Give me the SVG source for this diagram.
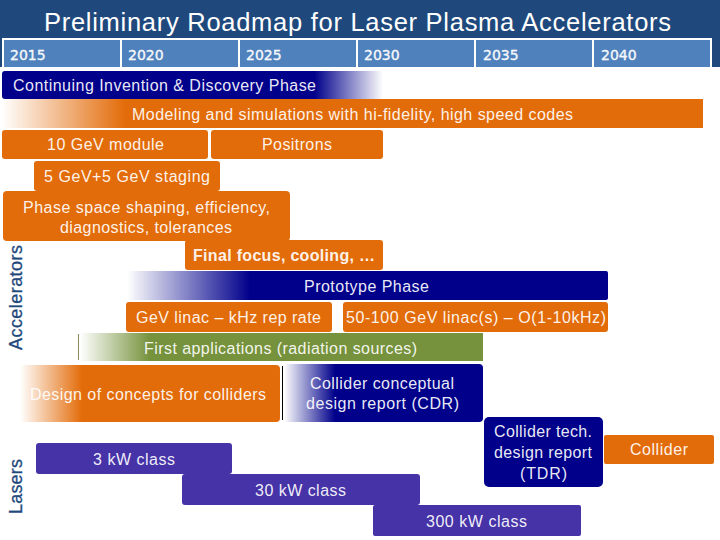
<svg xmlns="http://www.w3.org/2000/svg" width="720" height="540" viewBox="0 0 720 540">
<style>
text{font-family:"Liberation Sans",Arial,sans-serif;font-size:16px;fill:#fff;fill-opacity:.93}
.yr{font-family:"DejaVu Sans",sans-serif;font-size:14px;stroke:#fff;stroke-width:.35}
.side{fill:#1f497d;fill-opacity:1;font-size:18px;stroke:#1f497d;stroke-width:.3}
.o{fill:#e36c0a}.b{fill:#00008b}.p{fill:#4633a8}.g{fill:#76923c}
.cell{fill:#4f81bd;stroke:#fff;stroke-width:2}
</style>
<defs>
<linearGradient id="bR"><stop offset="0" stop-color="#00008b"/><stop offset=".82" stop-color="#00008b"/><stop offset="1" stop-color="#00008b" stop-opacity="0"/></linearGradient>
<linearGradient id="oL" gradientUnits="userSpaceOnUse" x1="2" x2="125" y1="0" y2="0"><stop offset="0" stop-color="#e36c0a" stop-opacity="0"/><stop offset="1" stop-color="#e36c0a"/></linearGradient>
<linearGradient id="pL" gradientUnits="userSpaceOnUse" x1="127" x2="250" y1="0" y2="0"><stop offset="0" stop-color="#00008b" stop-opacity="0"/><stop offset="1" stop-color="#00008b"/></linearGradient>
<linearGradient id="gL" gradientUnits="userSpaceOnUse" x1="80" x2="150" y1="0" y2="0"><stop offset="0" stop-color="#76923c" stop-opacity="0"/><stop offset="1" stop-color="#76923c"/></linearGradient>
<linearGradient id="dL" gradientUnits="userSpaceOnUse" x1="20" x2="82" y1="0" y2="0"><stop offset="0" stop-color="#e36c0a" stop-opacity="0"/><stop offset="1" stop-color="#e36c0a"/></linearGradient>
<linearGradient id="cL" gradientUnits="userSpaceOnUse" x1="284" x2="335" y1="0" y2="0"><stop offset="0" stop-color="#00008b" stop-opacity="0"/><stop offset="1" stop-color="#00008b"/></linearGradient>
</defs>
<g id="header">
<rect width="720" height="67" fill="#1f497d"/>
<text x="44" y="31" style="font-size:25.5px;fill-opacity:1" textLength="627">Preliminary Roadmap for Laser Plasma Accelerators</text>
</g>
<g id="years">
<rect class="cell" x="3" y="39" width="118" height="29"/><rect class="cell" x="121" y="39" width="118" height="29"/><rect class="cell" x="239" y="39" width="118" height="29"/><rect class="cell" x="357" y="39" width="118" height="29"/><rect class="cell" x="475" y="39" width="118" height="29"/><rect class="cell" x="593" y="39" width="118" height="29"/>
<rect y="67" width="720" height="4" fill="#fff"/>
<text class="yr" x="10" y="60">2015</text><text class="yr" x="128" y="60">2020</text><text class="yr" x="246" y="60">2025</text><text class="yr" x="364" y="60">2030</text><text class="yr" x="483" y="60">2035</text><text class="yr" x="601" y="60">2040</text>
</g>
<g id="invention"><rect x="2" y="71" width="381" height="28" rx="3" fill="url(#bR)"/><text x="13" y="91" textLength="303">Continuing Invention &amp; Discovery Phase</text></g>
<g id="modeling"><rect x="2" y="99" width="701" height="29" fill="url(#oL)"/><text x="132" y="120" textLength="441">Modeling and simulations with hi-fidelity, high speed codes</text></g>
<g id="module"><rect class="o" x="2" y="130" width="206" height="29" rx="3"/><text x="47" y="150" textLength="117">10 GeV module</text></g>
<g id="positrons"><rect class="o" x="211" y="130" width="172" height="29" rx="3"/><text x="262" y="150" textLength="70">Positrons</text></g>
<g id="staging"><rect class="o" x="34" y="161" width="186" height="30" rx="3"/><text x="44" y="182" textLength="166">5 GeV+5 GeV staging</text></g>
<g id="phase-space"><rect class="o" x="3" y="191" width="287" height="50" rx="4"/><text x="23" y="213" textLength="247">Phase space shaping, efficiency,</text><text x="60" y="233" textLength="172">diagnostics, tolerances</text></g>
<g id="final-focus"><rect class="o" x="185" y="240" width="198" height="30" rx="3"/><text x="193" y="261" textLength="182" style="font-weight:bold">Final focus, cooling, …</text></g>
<g id="prototype"><rect x="127" y="271" width="481" height="29" rx="2" fill="url(#pL)"/><text x="304" y="292" textLength="125">Prototype Phase</text></g>
<g id="gev-linac"><rect class="o" x="126" y="302" width="206" height="30" rx="3"/><text x="136" y="323" textLength="185">GeV linac – kHz rep rate</text></g>
<g id="tev-linac"><rect class="o" x="343" y="302" width="265" height="30" rx="3"/><text x="346" y="323" textLength="260">50-100 GeV linac(s) – O(1-10kHz)</text></g>
<g id="applications"><rect x="78" y="333" width="405" height="28" fill="url(#gL)"/><rect x="78" y="334" width="1" height="26" fill="#8a8a5c"/><text x="144" y="354" textLength="273">First applications (radiation sources)</text></g>
<g id="concepts"><rect x="20" y="365" width="260" height="57" rx="4" fill="url(#dL)"/><text x="30" y="400" textLength="236">Design of concepts for colliders</text></g>
<g id="cdr"><rect x="282" y="366" width="1" height="54" fill="#000"/><rect x="284" y="364" width="199" height="58" rx="4" fill="url(#cL)"/><text x="310" y="389" textLength="144">Collider conceptual</text><text x="306" y="409" textLength="153">design report (CDR)</text></g>
<g id="tdr"><rect class="b" x="484" y="417" width="119" height="70" rx="5"/><text x="494" y="437" textLength="98">Collider tech.</text><text x="494" y="458" textLength="98">design report</text><text x="520" y="479" textLength="47">(TDR)</text></g>
<g id="collider"><rect class="o" x="604" y="435" width="110" height="29" rx="2"/><text x="630" y="455" textLength="58">Collider</text></g>
<g id="kw3"><rect class="p" x="36" y="443" width="196" height="31" rx="3"/><text x="93" y="465" textLength="82">3 kW class</text></g>
<g id="kw30"><rect class="p" x="182" y="474" width="238" height="31" rx="3"/><text x="255" y="496" textLength="91">30 kW class</text></g>
<g id="kw300"><rect class="p" x="373" y="505" width="208" height="31" rx="2"/><text x="426" y="527" textLength="101">300 kW class</text></g>
<g id="axis-labels">
<text class="side" transform="translate(22 350) rotate(-90)" textLength="105">Accelerators</text>
<text class="side" transform="translate(22 514) rotate(-90)" textLength="55">Lasers</text>
</g>
<g id="connectors"/>
</svg>
